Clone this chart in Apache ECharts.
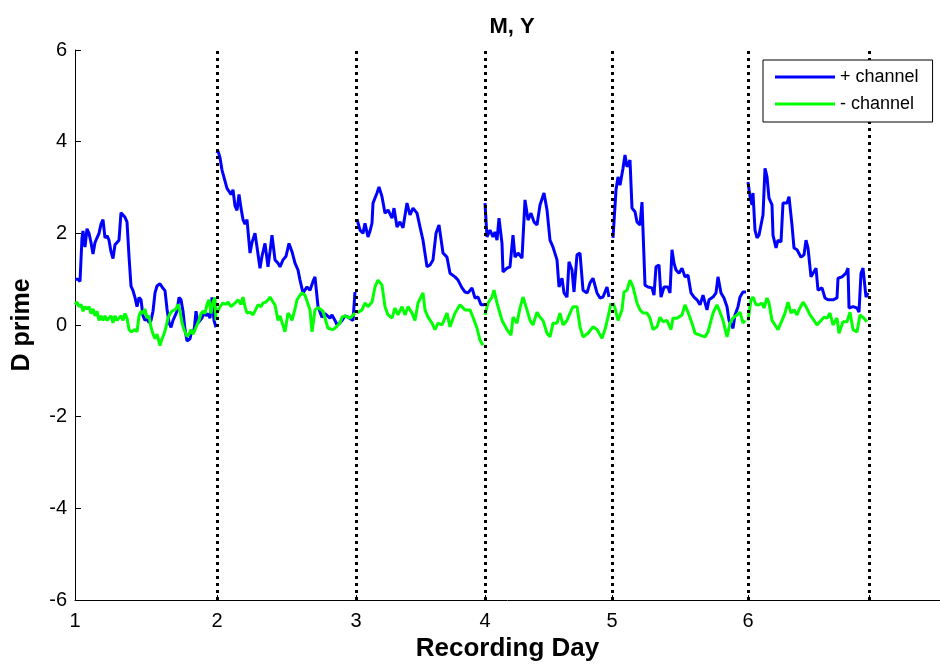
<!DOCTYPE html>
<html><head><meta charset="utf-8">
<script src="https://cdn.jsdelivr.net/npm/echarts@6/dist/echarts.min.js"></script>
<style>html,body{margin:0;padding:0;background:#fff}#c{width:940px;height:667px}</style>
</head><body><div id="c"></div>
<script>
// x = sample index across the whole recording; day boundaries in samples
const dayStarts = [0, 142, 281, 410, 537, 673];
const dayEnd = 794;
const xMax = 865;
const dayLabels = ['1', '2', '3', '4', '5', '6'];
const yTicks = [-6, -4, -2, 0, 2, 4, 6];
const seriesNames = ['+ channel', '- channel'];

// "+ channel" (blue) per day, [sample, d']
const plusDay1 = [[0,1.0],[3,1.0],[5,0.95],[7,1.9],[8,2.05],[10,1.7],[12,2.1],[14,2.0],[16,1.8],[18,1.55],[20,1.8],[22,1.9],[24,2.0],[26,2.2],[28,2.3],[30,1.9],[32,1.95],[34,1.85],[36,1.6],[38,1.45],[40,1.75],[42,1.8],[44,1.85],[46,2.45],[48,2.45],[50,2.35],[52,2.25],[54,1.5],[56,0.85],[58,0.75],[60,0.6],[62,0.4],[64,0.6],[66,0.55],[68,0.2],[70,0.1],[72,0.15],[74,0.05],[76,0.1],[78,0.3],[80,0.7],[82,0.85],[85,0.9],[88,0.8],[90,0.75],[92,0.35],[94,0.05],[96,-0.05],[98,0.1],[100,0.2],[102,0.3],[104,0.6],[106,0.55],[108,0.3],[110,-0.1],[112,-0.35],[115,-0.3],[117,-0.1],[119,-0.15],[121,0.3],[123,0.05],[125,0.1],[127,0.15],[129,0.3],[131,0.2],[133,0.25],[135,0.15],[137,0.6],[139,0.1],[141,-0.05]];
const plusDay2 = [[142,3.75],[143,3.8],[145,3.65],[147,3.38],[149,3.4],[152,2.98],[154,3.0],[156,2.85],[158,2.95],[160,2.6],[162,2.5],[164,2.85],[166,2.55],[168,2.3],[170,2.2],[172,2.3],[175,1.57],[177,1.8],[180,2.0],[182,1.7],[185,1.24],[187,1.5],[190,1.78],[193,1.27],[195,1.6],[197,1.96],[200,1.42],[203,1.35],[205,1.27],[208,1.42],[211,1.5],[214,1.78],[217,1.6],[220,1.35],[223,1.2],[225,0.98],[228,0.7],[232,0.83],[235,0.76],[238,0.95],[240,1.05],[243,0.4],[247,0.17],[250,0.25],[252,0.26],[255,0.15],[257,0.22],[260,0.1],[262,0.0],[265,0.05],[267,0.1],[270,0.2],[273,0.17],[275,0.2],[278,0.1],[280,0.72]];
const plusDay3 = [[282,2.31],[285,2.07],[288,2.0],[290,2.22],[293,1.92],[295,2.05],[297,2.22],[298,2.66],[302,2.88],[304,3.01],[307,2.8],[310,2.44],[313,2.51],[317,2.33],[319,2.55],[322,2.14],[325,2.25],[328,2.12],[332,2.66],[335,2.4],[338,2.55],[342,2.44],[345,2.14],[348,1.85],[352,1.27],[355,1.31],[358,1.42],[361,2.0],[364,2.18],[368,1.57],[372,1.48],[375,1.13],[380,1.05],[383,0.98],[387,0.81],[390,0.72],[393,0.7],[397,0.81],[400,0.59],[403,0.61],[406,0.44],[409,0.44]];
const plusDay4 = [[410,2.66],[412,1.92],[415,2.07],[418,1.92],[420,2.03],[422,1.85],[424,2.33],[427,1.78],[428,1.16],[432,1.24],[435,1.27],[438,1.96],[440,1.48],[443,1.57],[447,1.46],[450,2.73],[453,2.29],[456,2.44],[459,2.25],[462,2.18],[465,2.62],[469,2.88],[472,2.51],[475,1.85],[478,1.7],[482,1.42],[484,0.83],[487,1.02],[489,0.7],[492,0.61],[494,1.38],[497,1.2],[499,0.72],[502,1.53],[505,1.57],[508,0.76],[512,0.7],[515,0.92],[518,1.02],[522,0.7],[525,0.59],[528,0.61],[532,0.83],[534,0.61]];
const plusDay5 = [[538,1.9],[540,1.92],[541,2.95],[543,3.23],[545,3.05],[548,3.42],[550,3.71],[552,3.45],[555,3.6],[557,2.55],[560,2.47],[562,2.25],[565,2.18],[567,2.68],[568,2.07],[570,0.87],[573,0.83],[577,0.81],[579,0.65],[581,1.27],[584,1.31],[586,0.61],[589,0.83],[593,0.83],[595,0.7],[597,1.64],[599,1.35],[601,1.2],[604,1.13],[607,1.24],[610,1.05],[613,1.09],[616,0.7],[619,0.61],[622,0.55],[625,0.44],[628,0.65],[632,0.33],[634,0.55],[638,0.61],[641,0.7],[643,1.05],[646,0.7],[649,0.59],[652,0.4],[654,0.1],[658,-0.07],[660,0.22],[663,0.4],[665,0.61],[668,0.72],[671,0.72]];
const plusDay6 = [[673,3.12],[675,2.8],[677,2.62],[678,2.88],[680,2.07],[682,1.9],[684,1.96],[687,2.29],[688,2.4],[690,3.42],[692,3.23],[694,2.77],[697,2.62],[698,1.96],[701,1.68],[703,1.85],[706,1.81],[708,2.66],[710,2.68],[712,2.66],[714,2.8],[717,2.18],[719,1.68],[722,1.64],[726,1.48],[729,1.53],[731,1.85],[733,1.68],[736,1.05],[738,1.02],[741,1.24],[743,0.76],[747,0.81],[750,0.59],[753,0.55],[758,0.55],[762,0.59],[763,1.02],[767,1.05],[771,1.13],[773,1.24],[774,0.37],[778,0.4],[782,0.37],[784,0.28],[786,1.13],[788,1.24],[790,1.2],[791,0.61],[793,0.7]];

// "- channel" (green) per day
const minusDay1 = [[0,0.45],[2,0.5],[4,0.4],[6,0.45],[8,0.3],[10,0.4],[12,0.35],[14,0.4],[16,0.25],[18,0.35],[20,0.2],[22,0.3],[24,0.1],[26,0.2],[28,0.1],[30,0.2],[32,0.1],[34,0.15],[36,0.2],[38,0.05],[40,0.2],[42,0.1],[44,0.15],[46,0.2],[48,0.1],[50,0.25],[52,0.15],[54,-0.1],[56,-0.15],[58,-0.15],[60,-0.1],[62,-0.15],[64,0.2],[66,0.3],[68,0.25],[70,0.35],[72,0.15],[74,0.2],[76,-0.05],[78,-0.2],[80,-0.3],[82,-0.2],[85,-0.45],[87,-0.3],[89,-0.2],[91,-0.05],[93,0.15],[95,0.25],[97,0.3],[99,0.3],[101,0.35],[103,0.45],[105,0.3],[107,0.05],[109,-0.1],[112,-0.25],[114,-0.2],[116,-0.1],[118,-0.2],[120,-0.1],[122,0.0],[124,0.1],[126,0.25],[128,0.3],[130,0.25],[132,0.45],[134,0.55],[136,0.25],[138,0.5],[140,0.6],[141,0.1]];
const minusDay2 = [[142,0.26],[145,0.4],[148,0.48],[151,0.45],[153,0.5],[156,0.4],[158,0.44],[161,0.5],[163,0.55],[166,0.45],[168,0.61],[170,0.4],[172,0.26],[175,0.28],[178,0.22],[181,0.35],[183,0.44],[186,0.4],[188,0.48],[191,0.5],[193,0.55],[195,0.61],[198,0.5],[200,0.44],[203,0.1],[205,0.2],[207,0.17],[210,-0.15],[213,0.26],[215,0.2],[217,0.1],[220,0.35],[222,0.55],[225,0.65],[227,0.7],[230,0.65],[232,0.61],[235,0.33],[237,-0.15],[240,0.33],[243,0.38],[245,0.4],[248,0.3],[250,0.28],[253,-0.07],[255,-0.1],[258,-0.1],[261,-0.05],[263,-0.07],[265,0.05],[267,0.17],[270,0.2],[272,0.22],[275,0.15],[277,0.17],[280,0.26]];
const minusDay3 = [[282,0.26],[287,0.33],[290,0.48],[293,0.4],[297,0.5],[300,0.83],[303,0.98],[307,0.87],[310,0.4],[313,0.22],[317,0.15],[320,0.37],[323,0.22],[327,0.4],[330,0.22],[333,0.4],[337,0.26],[340,0.1],[343,0.48],[348,0.7],[350,0.33],[353,0.17],[357,0.04],[360,-0.1],[363,0.04],[367,0.0],[372,0.26],[375,-0.04],[380,0.26],[385,0.44],[390,0.33],[395,0.33],[398,0.17],[402,-0.07],[405,-0.33],[408,-0.44]];
const minusDay4 = [[410,0.22],[413,0.48],[417,0.61],[419,0.76],[422,0.48],[427,0.1],[432,-0.1],[436,-0.22],[438,0.17],[442,0.04],[445,0.37],[448,0.61],[452,0.33],[455,0.1],[458,0.0],[462,0.28],[465,0.17],[468,0.1],[472,-0.18],[475,-0.26],[478,0.04],[482,0.04],[485,0.26],[488,0.0],[492,0.1],[495,0.26],[498,0.4],[502,0.4],[505,-0.04],[508,-0.26],[513,-0.18],[518,-0.04],[522,-0.1],[527,-0.29],[530,-0.1],[533,0.17],[536,0.48]];
const minusDay5 = [[538,0.48],[540,0.37],[543,0.1],[547,0.33],[549,0.72],[552,0.76],[555,0.98],[558,0.83],[562,0.48],[565,0.33],[568,0.26],[572,0.26],[575,0.15],[578,-0.1],[582,-0.04],[585,0.17],[588,0.07],[592,0.1],[596,-0.1],[598,0.15],[602,0.15],[607,0.22],[610,0.44],[613,0.28],[617,0.04],[620,-0.18],[625,-0.22],[630,-0.26],[633,-0.15],[638,0.26],[642,0.44],[645,0.28],[648,0.1],[652,-0.26],[655,0.04],[658,0.15],[662,0.22],[665,0.28],[668,0.04],[670,0.1]];
const minusDay6 = [[673,0.1],[676,0.55],[678,0.61],[681,0.44],[684,0.44],[687,0.48],[689,0.37],[692,0.59],[694,0.48],[697,0.1],[700,0.0],[703,-0.1],[707,0.1],[710,0.26],[713,0.5],[716,0.26],[719,0.33],[722,0.22],[724,0.33],[728,0.5],[731,0.4],[735,0.22],[739,0.1],[742,0.0],[746,0.1],[749,0.17],[752,0.15],[755,0.26],[758,0.0],[762,0.15],[764,-0.18],[768,0.07],[772,0.07],[775,0.28],[778,-0.1],[782,-0.15],[785,0.22],[788,0.17],[792,0.07]];

function joinDays(days) {
  const out = [];
  days.forEach((d, i) => {
    if (i > 0) out.push([d[0][0] - 0.5, null]);
    d.forEach(p => out.push(p));
  });
  return out;
}
const plusData = joinDays([plusDay1, plusDay2, plusDay3, plusDay4, plusDay5, plusDay6]);
const minusData = joinDays([minusDay1, minusDay2, minusDay3, minusDay4, minusDay5, minusDay6]);
const boundaryLines = dayStarts.slice(1).concat([dayEnd]);

const FONT = '"Liberation Sans", Arial, Helvetica, sans-serif';
const chart = echarts.init(document.getElementById('c'), null, { renderer: 'canvas' });
chart.setOption({
  animation: false,
  backgroundColor: '#fff',
  textStyle: { fontFamily: FONT },
  title: {
    text: 'M, Y', left: 507, top: 11, textAlign: 'center', z: 20,
    textStyle: { fontFamily: FONT, fontSize: 22, fontWeight: 'bold', color: '#000' }
  },
  grid: { left: 75, right: 0, top: 50, bottom: 67, containLabel: false },
  legend: {
    orient: 'vertical', left: 763, top: 60, z: 20,
    data: seriesNames,
    icon: 'rect', itemWidth: 60, itemHeight: 3, itemGap: 9,
    padding: [8, 14, 9, 12],
    borderColor: '#000', borderWidth: 1, backgroundColor: '#fff',
    textStyle: { fontFamily: FONT, fontSize: 18, color: '#000' }
  },
  xAxis: {
    type: 'value', min: 0, max: xMax,
    name: 'Recording Day', nameLocation: 'middle', nameGap: 35,
    nameTextStyle: { fontFamily: FONT, fontSize: 26, fontWeight: 'bold', color: '#000' },
    axisLine: { onZero: false, lineStyle: { color: '#000', width: 1 } },
    axisTick: { inside: true, length: 5, customValues: dayStarts.concat([dayEnd]), lineStyle: { color: '#000' } },
    axisLabel: {
      customValues: dayStarts, margin: 11,
      formatter: v => dayLabels[dayStarts.indexOf(v)] || '',
      fontFamily: FONT, fontSize: 20, color: '#000'
    },
    splitLine: { show: false }
  },
  yAxis: {
    type: 'value', min: yTicks[0], max: yTicks[yTicks.length - 1], interval: 2,
    name: 'D prime', nameLocation: 'middle', nameGap: 40, nameRotate: 90,
    nameTextStyle: { fontFamily: FONT, fontSize: 25, fontWeight: 'bold', color: '#000' },
    axisLine: { show: true, lineStyle: { color: '#000', width: 1 } },
    axisTick: { show: true, inside: true, length: 6, lineStyle: { color: '#000' } },
    axisLabel: { fontFamily: FONT, fontSize: 20, color: '#000', margin: 8 },
    splitLine: { show: false }
  },
  series: [
    {
      name: seriesNames[0], type: 'line', data: plusData, showSymbol: false, connectNulls: false,
      color: '#0000ff', lineStyle: { color: '#0000ff', width: 3 }, z: 2
    },
    {
      name: seriesNames[1], type: 'line', data: minusData, showSymbol: false, connectNulls: false,
      color: '#00ff00', lineStyle: { color: '#00ff00', width: 3 }, z: 3,
      markLine: {
        silent: true, symbol: 'none', label: { show: false },
        lineStyle: { color: '#000', type: [3, 4], width: 3 },
        data: boundaryLines.map(v => ({ xAxis: v }))
      }
    }
  ]
});
</script></body></html>
